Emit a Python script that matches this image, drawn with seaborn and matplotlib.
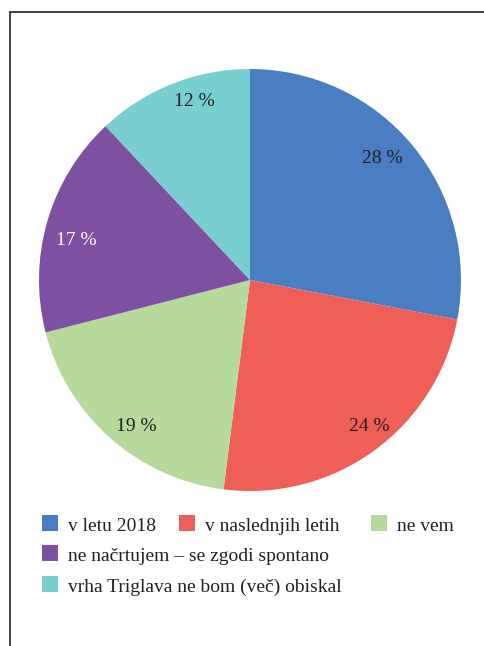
import numpy as np
import matplotlib
matplotlib.use("Agg")
import matplotlib.pyplot as plt
from matplotlib.lines import Line2D
from matplotlib.patches import Rectangle
import seaborn as sns

categories = [
    "v letu 2018",
    "v naslednjih letih",
    "ne vem",
    "ne načrtujem – se zgodi spontano",
    "vrha Triglava ne bom (več) obiskal",
]
shares = [28, 24, 19, 17, 12]
slice_colors = ["#4A7EC2", "#F05E58", "#B5DA9B", "#7E50A1", "#79CFD0"]
label_colors = ["#231F20", "#231F20", "#231F20", "#FFFFFF", "#231F20"]

# label placement: radial distance (fraction of radius) and angular nudge (deg)
label_dist = [0.855, 0.89, 0.87, 0.845, 0.895]
label_nudge = [3.4, 3.6, 3.3, 2.6, -4.6]

sns.set_theme(style="white")
plt.rcParams["font.family"] = ["Liberation Serif", "DejaVu Serif"]

W, H = 484, 646
fig = plt.figure(figsize=(W / 100, H / 100), dpi=100)
fig.patch.set_facecolor("white")

cx, cy, r = 250, 280, 211
ax = fig.add_axes([(cx - r) / W, (H - cy - r) / H, 2 * r / W, 2 * r / H])
wedges, texts, autotexts = ax.pie(
    shares,
    colors=slice_colors,
    startangle=90,
    counterclock=False,
    autopct=lambda p: f"{p:.0f} %",
    pctdistance=0.87,
    wedgeprops=dict(linewidth=0),
    textprops=dict(fontsize=14),
)
for w, t, c, d, n in zip(wedges, autotexts, label_colors, label_dist, label_nudge):
    mid = np.deg2rad((w.theta1 + w.theta2) / 2 + n)
    t.set_position((d * np.cos(mid), d * np.sin(mid)))
    t.set_color(c)
    t.set_va("center_baseline")
ax.set_xlim(-1, 1)
ax.set_ylim(-1, 1)
ax.set_aspect("equal")
ax.set_axis_off()

# frame lines along the top and left edges
fig.add_artist(Line2D([9.5 / W, 1.0], [1 - 11.5 / H, 1 - 11.5 / H], color="#231F20", lw=1.2))
fig.add_artist(Line2D([9.5 / W, 9.5 / W], [0.0, 1 - 11.5 / H], color="#231F20", lw=1.2))

# legend laid out as flowing rows
legend_slots = [(42, 531), (179, 531), (371, 531), (42, 561), (42, 592)]
sq = 16
for (x, base), name, col in zip(legend_slots, categories, slice_colors):
    fig.add_artist(Rectangle((x / W, (H - base) / H), sq / W, sq / H,
                             transform=fig.transFigure, facecolor=col, edgecolor="none"))
    fig.text((x + 26) / W, (H - base) / H, name, fontsize=14, color="#231F20",
             va="baseline", ha="left")

fig.savefig("out.png", dpi=100)
